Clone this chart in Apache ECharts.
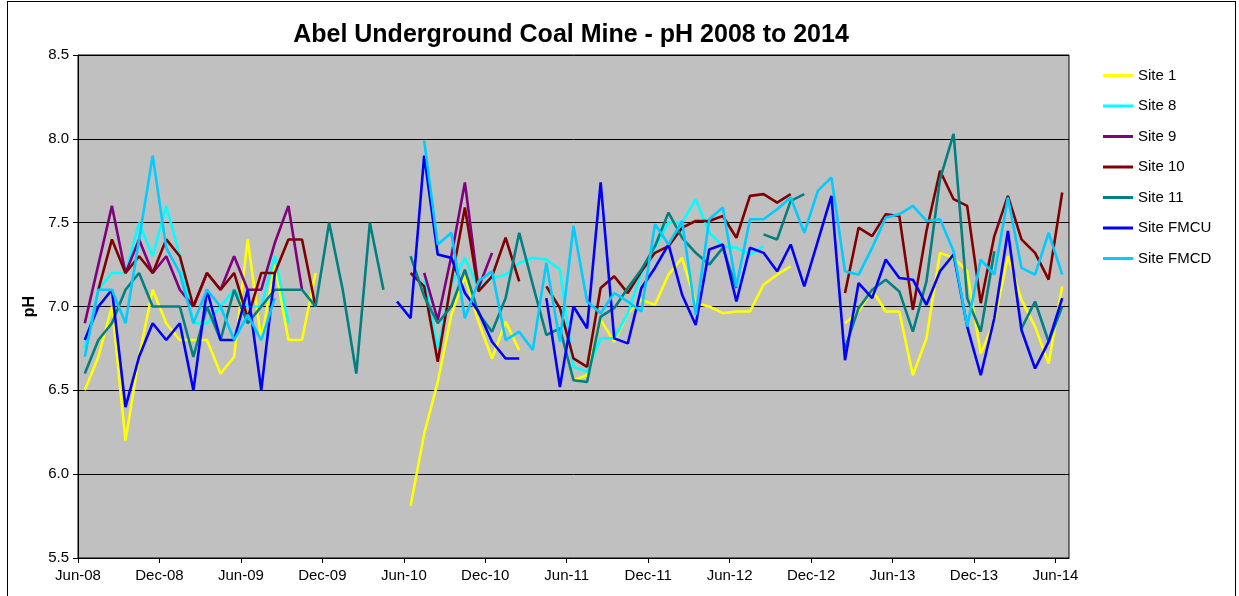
<!DOCTYPE html>
<html>
<head>
<meta charset="utf-8">
<title>Abel Underground Coal Mine - pH 2008 to 2014</title>
<script src="https://cdn.jsdelivr.net/npm/echarts@6/dist/echarts.min.js"></script>
<style>
  html, body { margin: 0; padding: 0; background: #fff; }
  #frame { position: absolute; left: 7px; top: 1px; width: 1229px; height: 620px; border: 1px solid #000; box-sizing: border-box; pointer-events: none; }
  #phChart { position: absolute; left: 0; top: 0; width: 1239px; height: 596px; }
</style>
</head>
<body>
<div id="phChart"></div>
<div id="frame"></div>
<script>
// monthly sampling, Jun-08 .. Jun-14
var months = [
    'Jun-08','Jul-08','Aug-08','Sep-08','Oct-08','Nov-08','Dec-08',
    'Jan-09','Feb-09','Mar-09','Apr-09','May-09','Jun-09','Jul-09','Aug-09','Sep-09','Oct-09','Nov-09','Dec-09',
    'Jan-10','Feb-10','Mar-10','Apr-10','May-10','Jun-10','Jul-10','Aug-10','Sep-10','Oct-10','Nov-10','Dec-10',
    'Jan-11','Feb-11','Mar-11','Apr-11','May-11','Jun-11','Jul-11','Aug-11','Sep-11','Oct-11','Nov-11','Dec-11',
    'Jan-12','Feb-12','Mar-12','Apr-12','May-12','Jun-12','Jul-12','Aug-12','Sep-12','Oct-12','Nov-12','Dec-12',
    'Jan-13','Feb-13','Mar-13','Apr-13','May-13','Jun-13','Jul-13','Aug-13','Sep-13','Oct-13','Nov-13','Dec-13',
    'Jan-14','Feb-14','Mar-14','Apr-14','May-14','Jun-14'
];

var tickLabels = ['Jun-08','Dec-08','Jun-09','Dec-09','Jun-10','Dec-10','Jun-11',
                  'Dec-11','Jun-12','Dec-12','Jun-13','Dec-13','Jun-14'];

var site1 = [
    6.5, 6.7, 7.0, 6.2, 6.7, 7.1, 6.9, 6.8, 6.8, 6.8, 6.6, 6.7,
    7.4, 6.8, 7.25, 6.8, 6.8, 7.2, null, null, null, null, null, null,
    5.81, 6.24, 6.55, 6.95, 7.18, 6.91, 6.69, 6.91, 6.74, null, null, null,
    6.56, 6.59, 6.92, 6.79, 6.96, 7.04, 7.01, 7.19, 7.29, 7.02, 7.0, 6.96,
    6.97, 6.97, 7.13, 7.19, 7.24, null, null, null, 6.9, 6.97, 7.1, 6.97,
    6.97, 6.59, 6.81, 7.32, 7.29, 7.21, 6.72, 6.91, 7.30, 7.04, 6.88, 6.66,
    7.12
];
var site8 = [
    6.75, 7.1, 7.2, 7.2, 7.5, 7.3, 7.6, 7.3, 6.9, 6.9, 7.0, 7.1,
    7.0, 7.0, 7.3, 6.9, null, null, null, null, null, null, null, null,
    null, 7.16, 6.75, 7.13, 7.29, 7.11, 7.17, 7.19, 7.26, 7.29, 7.28, 7.22,
    6.64, 6.61, 6.81, 6.81, 6.96, 7.2, 7.35, 7.5, 7.5, 7.64, 7.44, 7.36,
    7.35, 7.31, 7.36, null, null, null, null, null, null, null, null, null,
    null, null, null, null, null, null, null, null, null, null, null, null,
    null
];
var site9 = [
    6.9, 7.25, 7.6, 7.2, 7.4, 7.2, 7.3, 7.1, 7.0, 7.2, 7.1, 7.3,
    7.1, 7.1, 7.38, 7.6, 7.1, null, null, null, null, null, null, null,
    null, 7.2, 6.92, 7.3, 7.74, 7.11, 7.32, null, null, null, null, null,
    null, null, null, null, null, null, null, null, null, null, null, null,
    null, null, null, null, null, null, null, null, null, null, null, null,
    null, null, null, null, null, null, null, null, null, null, null, null,
    null
];
var site10 = [
    null, 7.1, 7.4, 7.2, 7.3, 7.2, 7.4, 7.3, 7.0, 7.2, 7.1, 7.2,
    6.93, 7.2, 7.2, 7.4, 7.4, 7.0, null, null, null, null, null, null,
    7.2, 7.12, 6.67, 7.15, 7.59, 7.09, 7.18, 7.41, 7.15, null, 7.12, 6.99,
    6.69, 6.64, 7.11, 7.18, 7.08, 7.21, 7.32, 7.36, 7.47, 7.51, 7.51, 7.54,
    7.41, 7.66, 7.67, 7.62, 7.67, null, null, null, 7.08, 7.47, 7.42, 7.55,
    7.54, 6.98, 7.45, 7.81, 7.64, 7.60, 7.02, 7.42, 7.66, 7.40, 7.32, 7.16,
    7.68
];
var site11 = [
    6.6, 6.8, 6.9, 7.1, 7.2, 7.0, 7.0, 7.0, 6.7, 7.0, 6.8, 7.1,
    6.9, 7.0, 7.1, 7.1, 7.1, 7.0, 7.5, 7.1, 6.6, 7.5, 7.1, null,
    7.3, 7.06, 6.9, 7.0, 7.22, 6.96, 6.85, 7.05, 7.44, 7.13, 6.83, 6.87,
    6.56, 6.55, 6.94, 6.99, 7.11, 7.22, 7.36, 7.56, 7.41, 7.32, 7.25, 7.35,
    7.11, null, 7.43, 7.40, 7.63, 7.67, null, null, 6.75, 6.99, 7.1, 7.16,
    7.09, 6.85, 7.15, 7.76, 8.03, 7.05, 6.85, 7.33, null, 6.87, 7.03, 6.79,
    7.0
];
var siteFMCU = [
    6.8, 7.0, 7.1, 6.4, 6.7, 6.9, 6.8, 6.9, 6.5, 7.1, 6.8, 6.8,
    7.1, 6.5, 7.2, null, null, null, null, null, null, null, null, 7.03,
    6.93, 7.90, 7.31, 7.29, 7.08, 6.97, 6.79, 6.69, 6.69, null, 7.05, 6.52,
    7.0, 6.87, 7.74, 6.81, 6.78, 7.11, 7.23, 7.37, 7.07, 6.89, 7.34, 7.37,
    7.03, 7.35, 7.32, 7.21, 7.37, 7.12, 7.39, 7.66, 6.68, 7.14, 7.05, 7.28,
    7.17, 7.16, 7.01, 7.21, 7.31, 6.88, 6.59, 6.93, 7.45, 6.86, 6.63, 6.79,
    7.05
];
var siteFMCD = [
    6.7, 7.1, 7.1, 6.9, 7.4, 7.9, 7.35, 7.2, 6.9, 7.1, 7.0, 6.8,
    6.95, 6.8, 7.05, null, null, null, null, null, null, null, null, null,
    null, 7.99, 7.37, 7.44, 6.93, 7.15, 7.21, 6.80, 6.85, 6.74, 7.26, 6.79,
    7.48, 7.03, 6.96, 7.08, 7.03, 6.97, 7.49, 7.37, 7.51, 6.95, 7.52, 7.59,
    7.12, 7.52, 7.52, 7.58, 7.65, 7.44, 7.69, 7.77, 7.21, 7.19, 7.35, 7.53,
    7.55, 7.60, 7.51, 7.52, 7.33, 6.88, 7.28, 7.19, 7.65, 7.23, 7.19, 7.44,
    7.19
];

var seriesNames = ['Site 1', 'Site 8', 'Site 9', 'Site 10', 'Site 11', 'Site FMCU', 'Site FMCD'];
var seriesData = [site1, site8, site9, site10, site11, siteFMCU, siteFMCD];
var seriesColors = ['#FFFF00', '#00FFFF', '#800080', '#800000', '#008080', '#0000FF', '#00CCFF'];

function loadPhChart() {
    var phChart = echarts.init(document.getElementById('phChart'));
    var font = 'Liberation Sans, Arial, sans-serif';

    var series = [];
    for (var i = 0; i < seriesNames.length; i++) {
        series.push({
            name: seriesNames[i],
            type: 'line',
            xAxisIndex: 0,
            data: seriesData[i],
            showSymbol: false,
            symbol: 'none',
            connectNulls: false,
            lineStyle: { color: seriesColors[i], width: 2.6 },
            itemStyle: { color: seriesColors[i] }
        });
    }

    var option = {
        animation: false,
        backgroundColor: '#fff',
        title: {
            text: 'Abel Underground Coal Mine - pH 2008 to 2014',
            left: 566,
            top: 18,
            textAlign: 'center',
            textStyle: { fontFamily: font, fontSize: 25, fontWeight: 'bold', color: '#000' }
        },
        legend: {
            orient: 'vertical',
            left: 1103,
            top: 68,
            padding: 0,
            icon: 'rect',
            itemWidth: 30,
            itemHeight: 3,
            itemGap: 15.5,
            textStyle: { fontFamily: font, fontSize: 15, color: '#000', lineHeight: 15 },
            data: seriesNames
        },
        grid: {
            left: 78, right: 170, top: 55, bottom: 38,
            show: true,
            backgroundColor: '#C0C0C0',
            borderColor: '#000',
            borderWidth: 1
        },
        xAxis: [
            {
                type: 'category',
                data: months,
                boundaryGap: true,
                axisLine: { show: false },
                axisTick: { show: false },
                axisLabel: { show: false },
                splitLine: { show: false }
            },
            {
                type: 'value',
                position: 'bottom',
                min: 0,
                max: months.length,
                interval: 6,
                axisLine: { show: true, lineStyle: { color: '#000', width: 1 } },
                axisTick: { show: true, length: 5, lineStyle: { color: '#000' } },
                splitLine: { show: false },
                axisLabel: {
                    showMaxLabel: false,
                    margin: 10,
                    fontFamily: font, fontSize: 15, color: '#000',
                    formatter: function (v) {
                        return v % 6 === 0 ? (tickLabels[v / 6] || '') : '';
                    }
                }
            }
        ],
        yAxis: {
            type: 'value',
            min: 5.5,
            max: 8.5,
            interval: 0.5,
            name: 'pH',
            nameLocation: 'middle',
            nameGap: 38,
            nameRotate: 90,
            nameTextStyle: { fontFamily: font, fontSize: 16, fontWeight: 'bold', color: '#000' },
            axisLine: { show: true, lineStyle: { color: '#000', width: 1 } },
            axisTick: { show: true, inside: false, length: 5, lineStyle: { color: '#000' } },
            splitLine: { show: true, lineStyle: { color: '#000', width: 1 } },
            axisLabel: {
                margin: 9,
                fontFamily: font, fontSize: 15, color: '#000',
                formatter: function (v) { return v.toFixed(1); }
            }
        },
        series: series
    };

    phChart.setOption(option);
}

loadPhChart();
</script>
</body>
</html>
